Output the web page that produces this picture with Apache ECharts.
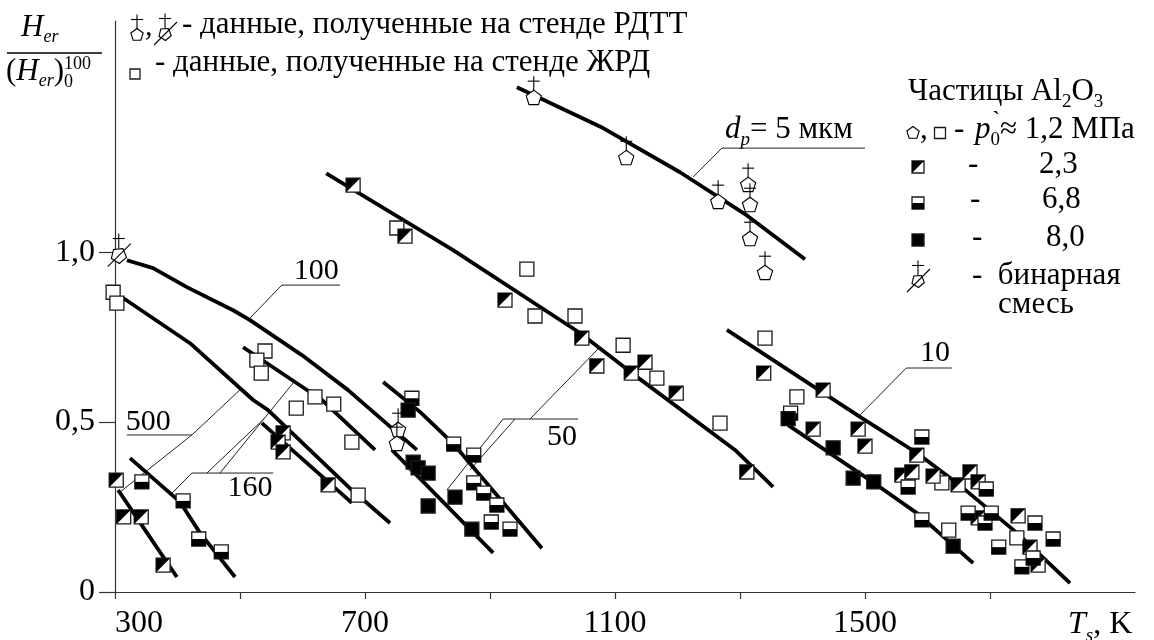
<!DOCTYPE html>
<html><head><meta charset="utf-8">
<script src="https://cdn.jsdelivr.net/npm/echarts@6/dist/echarts.min.js"></script>
<style>html,body{margin:0;padding:0;background:#fff}#c{width:1154px;height:640px}</style>
</head><body><div id="c"></div>
<script>
// ---------- data (T_s in K, relative erosion H_er/(H_er)_0^100) ----------
const xTicks = [300, 500, 700, 900, 1100, 1300, 1500, 1700];
const xTickLabels = [300, 700, 1100, 1500];
const yTickLabels = [0, 0.5, 1.0];

// fitted curves (thick)
const curve5 = [[943,1.485],[1081,1.365],[1204,1.235],[1308,1.112],[1404,0.979]];
const curveMain = [[638,1.232],[841,1.006],[1044,0.762],[1127,0.644],[1292,0.418],[1353,0.309]];
const curve100 = [[319,0.976],[361,0.953],[415,0.897],[489,0.829],[516,0.80],[599,0.697],[673,0.594],[783,0.418]];
const curve500 = [[313,0.865],[420,0.732],[521,0.565],[545,0.535],[679,0.30],[740,0.203]];
const curve500s = [[305,0.30],[345,0.191],[399,0.044]];
const curve160a = [[324,0.394],[404,0.265],[436,0.174],[492,0.044]];
const curve160b = [[505,0.72],[631,0.565],[716,0.418]];
const curve160c = [[535,0.497],[679,0.262]];
const curve50a = [[729,0.618],[788,0.53],[842,0.435],[983,0.129]];
const curve50b = [[743,0.418],[905,0.115]];
const curve10a = [[1279,0.771],[1492,0.515],[1583,0.409],[1647,0.321],[1743,0.174],[1828,0.026]];
const curve10b = [[1377,0.491],[1519,0.315],[1583,0.232],[1673,0.085]];
const thickCurves = [curve5, curveMain, curve100, curve500, curve500s, curve160a, curve160b, curve160c, curve50a, curve50b, curve10a, curve10b];

// leader lines (thin)
const lead5 = [[1500,1.306],[1271,1.306],[1225,1.221]];
const lead100 = [[660,0.903],[567,0.903],[516,0.806]];
const lead500a = [[319,0.462],[423,0.462],[503,0.60]];
const lead500b = [[423,0.462],[308,0.294]];
const lead160a = [[553,0.35],[423,0.35],[388,0.285]];
const lead160b = [[447,0.35],[538,0.509]];
const lead160c = [[468,0.35],[585,0.615]];
const lead50a = [[1041,0.509],[921,0.509],[831,0.30]];
const lead50b = [[940,0.509],[868,0.359]];
const lead50c = [[964,0.509],[1076,0.721]];
const lead10 = [[1639,0.659],[1566,0.659],[1492,0.521]];
const leaders = [lead5, lead100, lead500a, lead500b, lead160a, lead160b, lead160c, lead50a, lead50b, lead50c, lead10];

// curve labels [T, y, text]
const curveLabels = [[622,0.944,'100'],[353,0.50,'500'],[516,0.306,'160'],[1015,0.455,'50'],[1612,0.704,'10']];

// data points
const ptsRDTT = [[970,1.453],[1118,1.276],[1265,1.147],[1313,1.197],[1316,1.138],[1316,1.038],[1340,0.938],[753,0.476],[751,0.435]];
const ptsBinary = [[306,0.99]];
const ptsOpen = [[297,0.882],[303,0.85],[540,0.709],[527,0.682],[534,0.644],[590,0.541],[620,0.574],[650,0.553],[679,0.441],[689,0.285],
  [751,1.071],[959,0.95],[972,0.812],[1036,0.812],[1113,0.726],[1167,0.629],[1268,0.497],[1340,0.747],[1391,0.574],[1623,0.321],[1634,0.182],[1743,0.159]];
const ptsP23 = [[302,0.329],[314,0.221],[342,0.221],[377,0.079],[569,0.468],[561,0.441],[569,0.412],[641,0.315],
  [681,1.197],[764,1.047],[924,0.859],[1047,0.747],[1071,0.665],[1126,0.644],[1148,0.676],[1198,0.585],[1311,0.353],
  [1338,0.644],[1417,0.479],[1433,0.594],[1489,0.479],[1500,0.429],[1583,0.403],[1559,0.344],[1575,0.353],[1609,0.341],
  [1649,0.315],[1668,0.353],[1681,0.324],[1681,0.218],[1745,0.224],[1764,0.132],[1777,0.079]];
const ptsP68 = [[343,0.324],[409,0.268],[434,0.156],[470,0.118],
  [775,0.57],[842,0.435],[874,0.403],[874,0.321],[890,0.291],[911,0.256],[902,0.206],[932,0.185],
  [1381,0.526],[1591,0.456],[1569,0.309],[1694,0.303],[1591,0.212],[1665,0.232],[1692,0.203],[1702,0.232],
  [1772,0.203],[1714,0.132],[1801,0.156],[1751,0.074],[1769,0.10]];
const ptsP80 = [[769,0.535],[777,0.382],[785,0.365],[801,0.35],[801,0.253],[844,0.279],[871,0.185],
  [1377,0.51],[1449,0.424],[1481,0.335],[1514,0.324],[1641,0.135]];

// ---------- drawing helpers ----------
const FF = '"Liberation Serif","Times New Roman",serif';
function sqMarker(cx, cy, kind, s) {
  s = s || 14; const h = s / 2, x0 = cx - h, y0 = cy - h;
  const ch = [{type:'rect', shape:{x:x0,y:y0,width:s,height:s}, style:{fill: kind === 'f' ? '#000' : '#fff', stroke:'#1a1a1a', lineWidth:1.3}}];
  if (kind === 'd') ch.push({type:'polygon', shape:{points:[[x0,y0],[x0+s,y0],[x0,y0+s]]}, style:{fill:'#000'}});
  if (kind === 'h') ch.push({type:'rect', shape:{x:x0,y:cy,width:s,height:h}, style:{fill:'#000'}});
  return {type:'group', children:ch};
}
function pentMarker(cx, cy, binary, r, noCross) {
  r = r || 8;
  const rot = binary ? 0.55 : 0, pts = [];
  for (let i = 0; i < 5; i++) { const a = -Math.PI/2 + rot + i*2*Math.PI/5; pts.push([cx + r*Math.cos(a), cy + r*Math.sin(a)]); }
  const ch = [{type:'polygon', shape:{points:pts}, style:{fill:'#fff', stroke:'#000', lineWidth:1.1}}];
  const top = cy - r;
  if (!noCross) {
    ch.push({type:'line', shape:{x1:cx,y1:top+1,x2:cx,y2:top-14}, style:{stroke:'#000', lineWidth:1.1}});
    ch.push({type:'line', shape:{x1:cx-6,y1:top-9,x2:cx+6,y2:top-9}, style:{stroke:'#000', lineWidth:1.1}});
  }
  if (binary) ch.push({type:'line', shape:{x1:cx-11,y1:cy+11,x2:cx+12,y2:cy-12}, style:{stroke:'#000', lineWidth:1.1}});
  return {type:'group', children:ch};
}
function markerSeries(data, kind) {
  return {type:'custom', coordinateSystem:'cartesian2d', data:data, encode:{x:0,y:1}, z:5, silent:true, clip:false,
    renderItem:function(params, api){
      const p = api.coord([api.value(0), api.value(1)]);
      return (kind === 'o' || kind === 'b') ? pentMarker(p[0], p[1], kind === 'b') : sqMarker(p[0], p[1], kind);
    }};
}
const mctx = document.createElement('canvas').getContext('2d');
function runs(x, base, parts) {
  const els = []; let cx = x;
  parts.forEach(function(p){
    const fs = p.fs || 31;
    const font = (p.it ? 'italic ' : '') + (p.bold ? 'bold ' : '') + fs + 'px ' + FF;
    mctx.font = font;
    const w = mctx.measureText(p.t).width;
    els.push({type:'text', x:cx + (p.dx||0), y:base + (p.dy||0) - 0.35*fs, silent:true,
      style:{text:p.t, font:font, fill:'#000', align:'left', verticalAlign:'middle', textAlign:'left', textVerticalAlign:'middle'}});
    if (!p.noAdvance) cx += w + (p.gap || 0);
  });
  return els;
}

// ---------- series ----------
const series = [];
leaders.forEach(function(d){ series.push({type:'line', data:d, symbol:'none', silent:true, z:2, lineStyle:{color:'#222', width:1}}); });
thickCurves.forEach(function(d){ series.push({type:'line', data:d, symbol:'none', silent:true, z:3, lineStyle:{color:'#000', width:3.8}}); });
series.push(markerSeries(ptsOpen, 's'));
series.push(markerSeries(ptsP23, 'd'));
series.push(markerSeries(ptsP68, 'h'));
series.push(markerSeries(ptsP80, 'f'));
series.push(markerSeries(ptsRDTT, 'o'));
series.push(markerSeries(ptsBinary, 'b'));
series.push({type:'custom', coordinateSystem:'cartesian2d', data:curveLabels, encode:{x:0,y:1}, z:6, silent:true, clip:false,
  renderItem:function(params, api){
    const p = api.coord([api.value(0), api.value(1)]);
    return {type:'text', x:p[0], y:p[1], style:{text:curveLabels[params.dataIndex][2], font:'30px ' + FF, fill:'#000',
      align:'center', verticalAlign:'middle', textAlign:'center', textVerticalAlign:'middle'}};
  }});

// ---------- static text / legend ----------
let g = [];
// y-axis name (fraction)
g = g.concat(runs(21, 39, [{t:'H', it:true, fs:31}, {t:'er', it:true, fs:18, dy:5}]));
g.push({type:'line', shape:{x1:7,y1:53,x2:102,y2:53}, style:{stroke:'#000', lineWidth:1.3}});
g = g.concat(runs(6, 83, [{t:'(', fs:31}, {t:'H', it:true, fs:31}, {t:'er', it:true, fs:18, dy:5}, {t:')', fs:31}, {t:'0', fs:18, dy:6, noAdvance:true}, {t:'100', fs:18, dy:-12}]));
// top legend
g.push(pentMarker(137, 35, false, 6.5));
g = g.concat(runs(145, 38, [{t:',', fs:30}]));
g.push(pentMarker(165, 34, true, 6.5));
g = g.concat(runs(182, 36, [{t:'- данные, полученные на стенде РДТТ', fs:31}]));
g.push(sqMarker(135, 74, 's', 10));
g = g.concat(runs(155, 74, [{t:'- данные, полученные на стенде ЖРД', fs:31}]));
// right legend
g = g.concat(runs(908, 103, [{t:'Частицы Al', fs:31}, {t:'2', fs:19, dy:6}, {t:'O', fs:31}, {t:'3', fs:19, dy:6}]));
g.push(pentMarker(913, 133, false, 6.5, true));
g = g.concat(runs(920, 141, [{t:',', fs:31}]));
g.push(sqMarker(940, 133, 's', 11));
g = g.concat(runs(954, 141, [{t:'- ', fs:31, gap:3}, {t:'p', it:true, fs:31}, {t:'0', fs:19, dy:6, noAdvance:true}, {t:'`', bold:true, fs:22, dy:-13, dx:2, gap:2}, {t:'≈ 1,2 МПа', fs:31}]));
g.push(sqMarker(918, 167, 'd', 12));
g = g.concat(runs(968, 176, [{t:'-', fs:31}]));
g = g.concat(runs(1039, 176, [{t:'2,3', fs:31}]));
g.push(sqMarker(918, 203, 'h', 12));
g = g.concat(runs(970, 211, [{t:'-', fs:31}]));
g = g.concat(runs(1042, 211, [{t:'6,8', fs:31}]));
g.push(sqMarker(918, 240, 'f', 12));
g = g.concat(runs(972, 249, [{t:'-', fs:31}]));
g = g.concat(runs(1046, 249, [{t:'8,0', fs:31}]));
g.push(pentMarker(918, 281, true, 6.5));
g = g.concat(runs(972, 287, [{t:'-  бинарная', fs:31}]));
g = g.concat(runs(998, 316, [{t:'смесь', fs:31}]));
// d_p = 5 mkm label
g = g.concat(runs(725, 141, [{t:'d', it:true, fs:31}, {t:'p', it:true, fs:19, dy:6}, {t:'= 5 мкм', fs:31}]));
// x-axis name
g = g.concat(runs(1068, 636, [{t:'T', it:true, fs:32}, {t:'s', it:true, fs:19, dy:7}, {t:', K', fs:32}]));

const chart = echarts.init(document.getElementById('c'), null, {renderer:'canvas'});
chart.setOption({
  animation:false,
  backgroundColor:'#fff',
  grid:{left:115, right:19, top:21, bottom:48, containLabel:false},
  xAxis:{type:'value', min:300, max:1932,
    axisLine:{show:true, onZero:true, lineStyle:{color:'#333', width:1.2}},
    axisTick:{show:true, length:7, lineStyle:{color:'#333', width:1.2}, customValues:xTicks},
    axisLabel:{show:true, customValues:xTickLabels, fontSize:32, fontFamily:FF, color:'#000', margin:16, alignMinLabel:'left',
      formatter:function(v){ return String(v); }},
    splitLine:{show:false}},
  yAxis:{type:'value', min:0, max:1.68,
    axisLine:{show:true, lineStyle:{color:'#333', width:1.2}},
    axisTick:{show:true, length:16, lineStyle:{color:'#333', width:1.2}, customValues:yTickLabels},
    axisLabel:{show:true, customValues:yTickLabels, fontSize:32, fontFamily:FF, color:'#000', margin:20,
      formatter:function(v){ return v === 0 ? '0' : v.toFixed(1).replace('.', ','); }},
    splitLine:{show:false}},
  graphic:g,
  series:series
});
</script></body></html>
